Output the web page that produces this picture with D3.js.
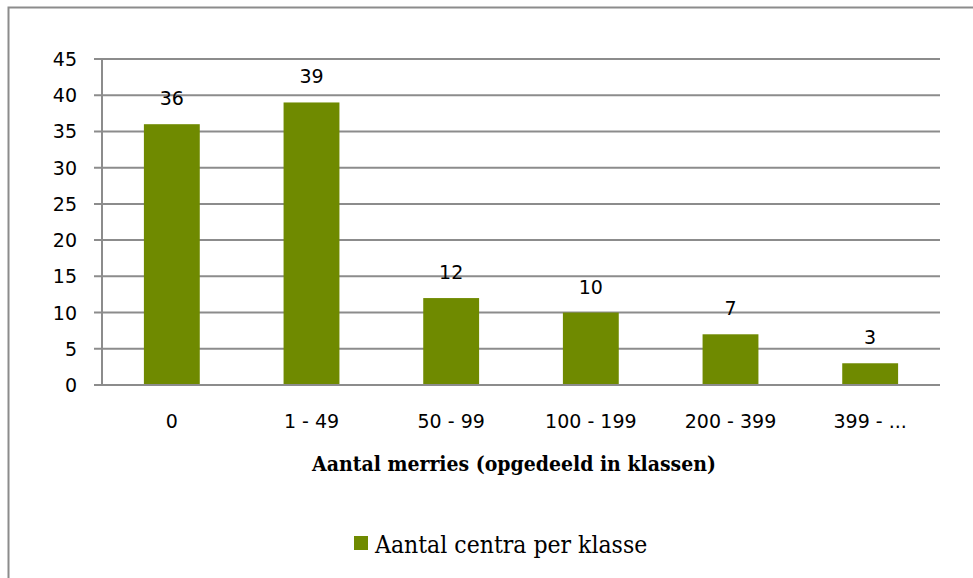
<!DOCTYPE html>
<html>
<head>
<meta charset="utf-8">
<script src="https://cdn.jsdelivr.net/npm/d3@7"></script>
<style>
  body { margin: 0; background: #fff; }
</style>
</head>
<body>
<div id="chart-area"></div>
<script>
/* chart data */
var categories = ["0", "1 - 49", "50 - 99", "100 - 199", "200 - 399", "399 - ..."];
var counts = [36, 39, 12, 10, 7, 3];
var yTicks = [0, 5, 10, 15, 20, 25, 30, 35, 40, 45];
var seriesName = "Aantal centra per klasse";
var xTitle = "Aantal merries (opgedeeld in klassen)";

var width = 973;
var height = 578;
var barColor = "#6f8a00";
var gridColor = "#8c8c8c";

var svg = d3.select("#chart-area")
    .append("svg")
    .attr("width", width)
    .attr("height", height);

/* outer frame (only top and left are visible in the picture) */
svg.append("rect")
    .attr("x", 8.5)
    .attr("y", 7.5)
    .attr("width", 1000)
    .attr("height", 600)
    .attr("fill", "none")
    .attr("stroke", "#8c8c8c")
    .attr("stroke-width", 2);

var x = d3.scaleBand()
    .domain(categories)
    .range([102, 940])
    .paddingInner(0.6)
    .paddingOuter(0.3);

var y = d3.scaleLinear()
    .domain([0, 45])
    .range([385, 59]);

/* gridlines with the little tick stubs on the left */
svg.append("g")
    .selectAll("line")
    .data(yTicks)
    .enter().append("line")
    .attr("x1", 94)
    .attr("x2", 940)
    .attr("y1", d => y(d))
    .attr("y2", d => y(d))
    .attr("stroke", gridColor)
    .attr("stroke-width", 2);

/* y axis line */
svg.append("line")
    .attr("x1", 102).attr("x2", 102)
    .attr("y1", y(45)).attr("y2", y(0))
    .attr("stroke", gridColor)
    .attr("stroke-width", 2);

var labelFont = "DejaVu Sans, Verdana, sans-serif";
var slabFont = "'DejaVu Serif Condensed', 'DejaVu Serif', serif";

/* y tick labels */
svg.append("g")
    .selectAll("text")
    .data(yTicks)
    .enter().append("text")
    .attr("x", 77)
    .attr("y", d => y(d) + 7)
    .attr("text-anchor", "end")
    .style("font-family", labelFont)
    .style("font-size", "19px")
    .attr("fill", "#000")
    .text(d => d);

/* bars */
svg.append("g")
    .selectAll("rect")
    .data(counts)
    .enter().append("rect")
    .attr("x", (d, i) => x(categories[i]))
    .attr("y", d => y(d))
    .attr("width", x.bandwidth())
    .attr("height", d => y(0) - y(d))
    .attr("fill", barColor);

/* redraw baseline on top of bars */
svg.append("line")
    .attr("x1", 94).attr("x2", 940)
    .attr("y1", y(0)).attr("y2", y(0))
    .attr("stroke", gridColor)
    .attr("stroke-width", 2);

/* value labels */
svg.append("g")
    .selectAll("text")
    .data(counts)
    .enter().append("text")
    .attr("x", (d, i) => x(categories[i]) + x.bandwidth() / 2)
    .attr("y", d => y(d) - 19)
    .attr("text-anchor", "middle")
    .style("font-family", labelFont)
    .style("font-size", "19px")
    .attr("fill", "#000")
    .text(d => d);

/* category labels */
svg.append("g")
    .selectAll("text")
    .data(categories)
    .enter().append("text")
    .attr("x", d => x(d) + x.bandwidth() / 2)
    .attr("y", 428)
    .attr("text-anchor", "middle")
    .style("font-family", labelFont)
    .style("font-size", "19px")
    .attr("fill", "#000")
    .text(d => d);

/* x axis title */
svg.append("text")
    .attr("x", 514)
    .attr("y", 471)
    .attr("text-anchor", "middle")
    .style("font-family", slabFont)
    .style("font-stretch", "condensed")
    .style("font-size", "21px")
    .style("font-weight", "bold")
    .attr("fill", "#000")
    .text(xTitle);

/* legend */
svg.append("rect")
    .attr("x", 354)
    .attr("y", 536)
    .attr("width", 14)
    .attr("height", 14)
    .attr("fill", barColor);

svg.append("text")
    .attr("x", 375)
    .attr("y", 553)
    .style("font-family", slabFont)
    .style("font-stretch", "condensed")
    .style("font-size", "24.5px")
    .attr("fill", "#000")
    .text(seriesName);
</script>
</body>
</html>
